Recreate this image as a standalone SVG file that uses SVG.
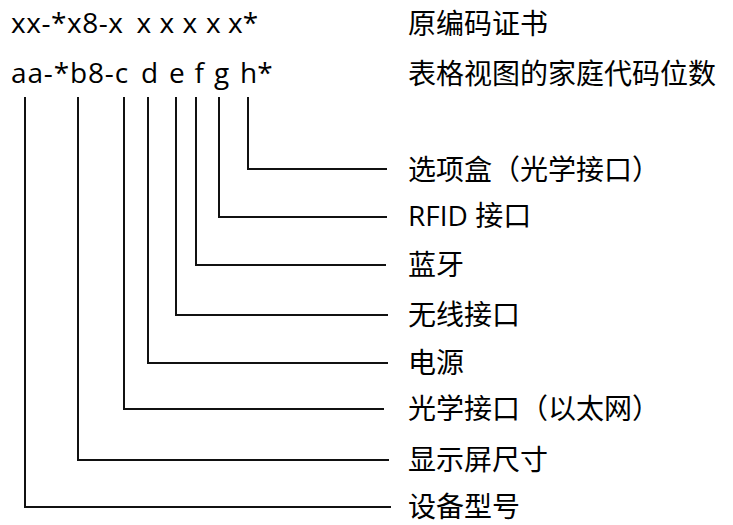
<svg xmlns="http://www.w3.org/2000/svg" width="733" height="525" viewBox="0 0 733 525">
<style>
text{font-family:"Open Sans","Noto Sans CJK SC",sans-serif;font-size:28px;fill:#000}
.c{fill:none;stroke:#111;stroke-width:2}
</style>
<rect width="733" height="525" fill="#fff"/>
<g id="header">
<text x="11" y="33"><tspan style="letter-spacing:0.55px">xx-*x8-x</tspan> <tspan x="136.5">x</tspan> <tspan x="159.5">x</tspan> <tspan x="182.5">x</tspan> <tspan x="206">x</tspan> <tspan x="228">x*</tspan></text>
<text x="408" y="34">原编码证书</text>
<text x="11" y="83"><tspan style="letter-spacing:0.85px">aa-*b8-c</tspan> <tspan x="141">d</tspan> <tspan x="169">e</tspan> <tspan x="194.5">f</tspan> <tspan x="214">g</tspan> <tspan x="240">h*</tspan></text>
<text x="408" y="84">表格视图的家庭代码位数</text>
</g>
<g id="connectors">
<path class="c" d="M248 97V169H387"/>
<path class="c" d="M219 97V217H387"/>
<path class="c" d="M196 97V265H386"/>
<path class="c" d="M176 97V315H388"/>
<path class="c" d="M148 97V363H388"/>
<path class="c" d="M124 97V409H384"/>
<path class="c" d="M78 97V460H389"/>
<path class="c" d="M25 97V507H391"/>
</g>
<g id="node-h"><text x="408" y="180">选项盒（光学接口）</text></g>
<g id="node-g"><text x="408" y="226">RFID 接口</text></g>
<g id="node-f"><text x="408" y="275">蓝牙</text></g>
<g id="node-e"><text x="408" y="325">无线接口</text></g>
<g id="node-d"><text x="408" y="373">电源</text></g>
<g id="node-c"><text x="408" y="419">光学接口（以太网）</text></g>
<g id="node-b"><text x="408" y="470">显示屏尺寸</text></g>
<g id="node-a"><text x="408" y="517">设备型号</text></g>
</svg>
